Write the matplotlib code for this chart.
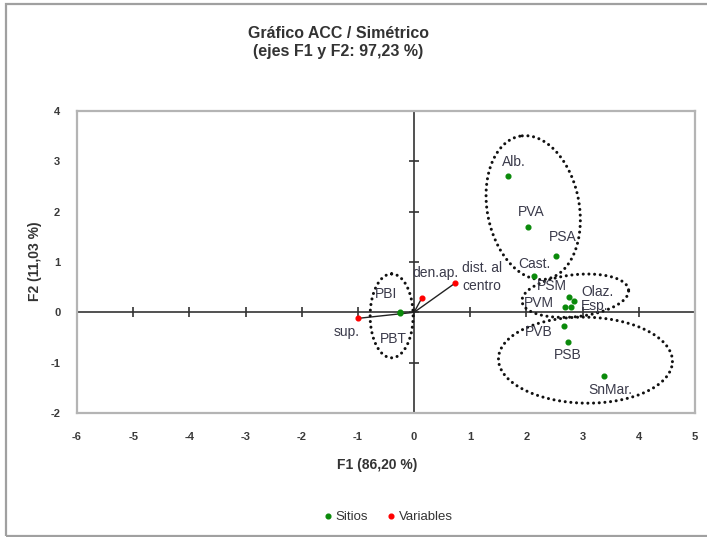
import numpy as np
import matplotlib
matplotlib.use('Agg')
import matplotlib.pyplot as plt
from matplotlib.lines import Line2D
from matplotlib.patches import Rectangle

plt.rcParams['font.family'] = ['Liberation Sans', 'DejaVu Sans']
plt.rcParams['axes.unicode_minus'] = False

# sitios
sitios = ['Alb.', 'PVA', 'PSA', 'Cast.', 'PSM', 'Olaz.', 'PVM', 'Esp.', 'PVB', 'PSB', 'SnMar.', 'PBI', 'PBT']
sitios_x = [1.68, 2.03, 2.52, 2.14, 2.75, 2.84, 2.69, 2.79, 2.66, 2.74, 3.38, -0.25, -0.25]
sitios_y = [2.71, 1.70, 1.12, 0.73, 0.31, 0.23, 0.11, 0.11, -0.27, -0.58, -1.27, 0.00, -0.01]

# variables
variables = ['sup.', 'den.ap.', 'dist. al\ncentro']
var_x = [-1.00, 0.14, 0.73]
var_y = [-0.12, 0.29, 0.58]

x_ticks = list(range(-6, 6))
y_ticks = list(range(-2, 5))

# desplazamiento de etiquetas (pixeles)
off_sitios = [(5, 14), (3, 15), (7, 19), (0, 12), (-17, 11), (24, 9), (-26, 4), (24, 1),
              (-25, -6), (0, -13), (6, -14), (-14, 18), (-7, -26)]
off_vars = [(-11, -14), (13, 25), (7, 6)]

W, H = 707, 537
fig = plt.figure(figsize=(W / 100, H / 100), dpi=100)
L, R, T, B = 77, 695, 111, 413
ax = fig.add_axes([L / W, 1 - B / H, (R - L) / W, (B - T) / H])
ax.set_xlim(-6, 5)
ax.set_ylim(-2, 4)
for s in ax.spines.values():
    s.set_color('#b4b4b4')
    s.set_linewidth(1.6)
ax.set_xticks(x_ticks)
ax.set_yticks(y_ticks)
ax.tick_params(length=0, labelsize=8, labelcolor='#3a3a3a', pad=14)
ax.tick_params(axis='y', pad=12)
for lab in ax.get_xticklabels() + ax.get_yticklabels():
    lab.set_fontweight('bold')

# ejes centrales
ax.axhline(0, color='#333333', lw=1.2, zorder=1)
ax.axvline(0, color='#333333', lw=1.2, zorder=1)
ax.plot(x_ticks, [0] * len(x_ticks), ls='none', marker='|', ms=7, mew=1.2, color='#333333', clip_on=False)
ax.plot([0] * len(y_ticks), y_ticks, ls='none', marker='_', ms=7, mew=1.2, color='#333333', clip_on=False)

# vectores de variables
for vx, vy in zip(var_x, var_y):
    ax.plot([0, vx], [0, vy], color='#222222', lw=1.0, zorder=2)

ax.plot(sitios_x, sitios_y, ls='none', marker='o', ms=3.4, color='#0a8a0a', zorder=4)
ax.plot(var_x, var_y, ls='none', marker='o', ms=3.4, color='#ff0000', zorder=4)

lab_kw = dict(textcoords='offset pixels', ha='center', va='center', fontsize=10, color='#3a3a4a', zorder=5)
for name, x, y, off in zip(sitios, sitios_x, sitios_y, off_sitios):
    ax.annotate(name, (x, y), xytext=off, **lab_kw)
for name, x, y, off in zip(variables, var_x, var_y, off_vars):
    kw = dict(lab_kw)
    if '\n' in name:
        kw['ha'] = 'left'
        kw['linespacing'] = 1.4
    ax.annotate(name, (x, y), xytext=off, **kw)

# elipses punteadas (centro en datos, semiejes en pixeles)
sx = (R - L) / 11
sy = (B - T) / 6
elipses = [(2.12, 2.08, 72.7, 46, 100.6), (-0.40, -0.07, 42, 21.5, 90),
           (2.87, 0.33, 53.6, 21, 6.3), (3.05, -0.95, 87, 43, -1)]
t = np.linspace(0, 2 * np.pi, 300)
for cx, cy, a, b, ang in elipses:
    th = np.radians(ang)
    px = a * np.cos(t) * np.cos(th) - b * np.sin(t) * np.sin(th)
    py = a * np.cos(t) * np.sin(th) + b * np.sin(t) * np.cos(th)
    ax.plot(cx + px / sx, cy + py / sy, color='#111111', lw=2.2,
            ls=(0, (0.01, 1.85)), dash_capstyle='round', zorder=3)

# textos
fig.text(338 / W, 1 - 42.5 / H, 'Gráfico ACC / Simétrico\n(ejes F1 y F2: 97,23 %)',
         ha='center', va='center', fontsize=11.5, fontweight='bold', color='#333333', linespacing=1.3)
fig.text(35 / W, 1 - 261 / H, 'F2 (11,03 %)', rotation=90, ha='center', va='center',
         fontsize=10, fontweight='bold', color='#333333')
fig.text(377 / W, 1 - 465 / H, 'F1 (86,20 %)', ha='center', va='center',
         fontsize=10, fontweight='bold', color='#333333')

handles = [Line2D([], [], ls='none', marker='o', ms=3.4, color='#0a8a0a', label='Sitios'),
           Line2D([], [], ls='none', marker='o', ms=3.4, color='#ff0000', label='Variables')]
fig.legend(handles=handles, loc='center', bbox_to_anchor=(387 / W, 1 - 517 / H), ncol=2,
           frameon=False, fontsize=9.5, handletextpad=0.1, columnspacing=1.2, handlelength=1.0,
           labelcolor='#333333')

# marco exterior
fig.add_artist(Rectangle((6 / W, 1 - 536 / H), 1.0, (536 - 4) / H, transform=fig.transFigure,
                         fill=False, edgecolor='#a0a0a0', lw=1.6))

fig.savefig('out.png', dpi=100)
